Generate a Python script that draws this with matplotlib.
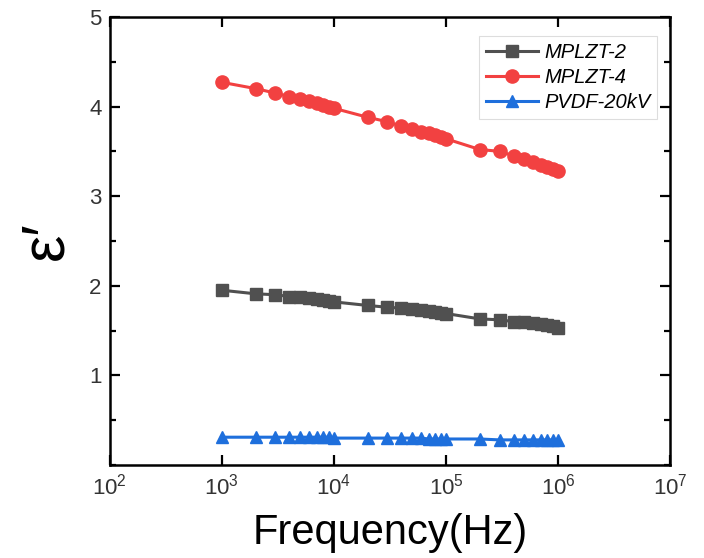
"""Dielectric constant vs frequency for MPLZT and PVDF films."""

import matplotlib

matplotlib.use("Agg")
import matplotlib.pyplot as plt
from matplotlib.ticker import LogLocator, MultipleLocator, NullLocator

plt.rcParams["font.family"] = ["Liberation Sans", "DejaVu Sans"]
plt.rcParams["mathtext.fontset"] = "custom"
plt.rcParams["mathtext.rm"] = "Liberation Sans"

# frequencies: 1..9 x 10^n for three decades, plus 10^6
freq = [1e3, 2e3, 3e3, 4e3, 5e3, 6e3, 7e3, 8e3, 9e3,
        1e4, 2e4, 3e4, 4e4, 5e4, 6e4, 7e4, 8e4, 9e4,
        1e5, 2e5, 3e5, 4e5, 5e5, 6e5, 7e5, 8e5, 9e5,
        1e6]

mplzt2 = [1.95, 1.91, 1.90, 1.88, 1.87, 1.86, 1.85, 1.84, 1.83,
          1.82, 1.78, 1.76, 1.75, 1.74, 1.73, 1.72, 1.71, 1.70,
          1.69, 1.63, 1.62, 1.60, 1.59, 1.58, 1.57, 1.56, 1.55,
          1.53]

mplzt4 = [4.27, 4.20, 4.15, 4.11, 4.08, 4.06, 4.04, 4.02, 4.00,
          3.98, 3.88, 3.83, 3.78, 3.75, 3.72, 3.70, 3.68, 3.66,
          3.64, 3.52, 3.50, 3.45, 3.41, 3.38, 3.35, 3.32, 3.30,
          3.28]

pvdf = [0.31, 0.31, 0.31, 0.31, 0.31, 0.31, 0.31, 0.31, 0.31,
        0.30, 0.30, 0.30, 0.30, 0.30, 0.30, 0.29, 0.29, 0.29,
        0.29, 0.29, 0.28, 0.28, 0.28, 0.28, 0.28, 0.28, 0.28,
        0.28]

series = [
    ("MPLZT-2", mplzt2, "#505050", "s", 8.5),
    ("MPLZT-4", mplzt4, "#f24141", "o", 9.5),
    ("PVDF-20kV", pvdf, "#1e6fdc", "^", 9.0),
]

fig = plt.figure(figsize=(7.04, 5.58), dpi=100)
ax = fig.add_axes([0.156, 0.1667, 0.796, 0.803])

for label, values, color, marker, size in series:
    ax.plot(freq, values, color=color, marker=marker, markersize=size,
            linewidth=2.2, label=label)

ax.set_xscale("log")
ax.set_xlim(1e2, 1e7)
ax.set_ylim(0, 5)
ax.xaxis.set_major_locator(LogLocator(base=10, numticks=10))
ax.xaxis.set_minor_locator(NullLocator())
ax.set_yticks([1, 2, 3, 4, 5])
ax.yaxis.set_minor_locator(MultipleLocator(0.5))

for side in ax.spines.values():
    side.set_linewidth(1.8)
ax.tick_params(which="both", direction="in", top=True, right=True,
               width=1.6, labelsize=16, labelcolor="#333333", pad=6)
ax.tick_params(which="major", length=7)
ax.tick_params(which="minor", length=4)

ax.set_xlabel("Frequency(Hz)", fontsize=30, labelpad=10)
ax.set_ylabel("\u03b5\u2032", fontsize=44, labelpad=10)

legend = ax.legend(loc="upper right", bbox_to_anchor=(0.995, 0.98),
                   prop={"style": "italic", "size": 14.5},
                   handlelength=2.6, labelspacing=0.3, borderpad=0.35,
                   handletextpad=0.3, fancybox=False, framealpha=1)
legend.get_frame().set_edgecolor("#dddddd")
legend.get_frame().set_linewidth(0.8)

fig.savefig("out.png", dpi=100)
